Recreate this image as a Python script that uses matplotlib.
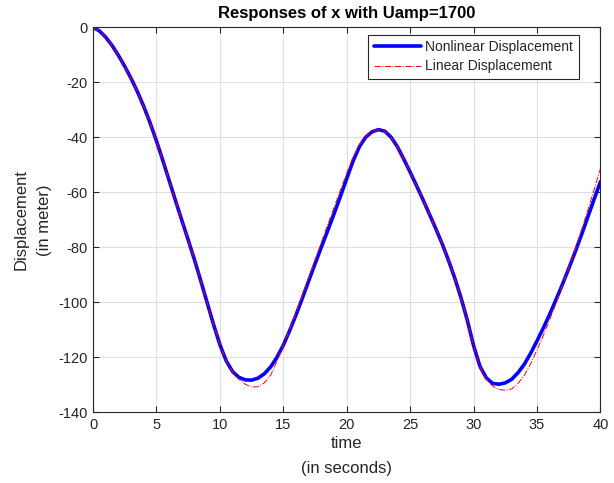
import matplotlib
matplotlib.use("Agg")
import matplotlib.pyplot as plt

plt.rcParams['font.family'] = ['Liberation Sans', 'DejaVu Sans']
plt.rcParams['axes.unicode_minus'] = False

t = [i * 0.5 for i in range(81)]

nonlinear = [0, -1.3, -3.6, -6.6, -10.2, -14.2, -18.6, -23.4, -28.8, -34.8,
             -41.3, -48.4, -55.7, -63.0, -70.2, -77.3, -84.6, -92.3, -100.2, -108.1,
             -115.4, -121.3, -125.2, -127.3, -128.2, -128.3, -127.6, -126.0, -123.5, -120.0,
             -115.6, -110.3, -104.6, -98.5, -92.2, -86.0, -79.9, -73.9, -67.8, -61.5,
             -55.0, -48.6, -43.4, -39.9, -38.0, -37.2, -37.8, -40.0, -43.5, -48.0,
             -52.7, -57.6, -62.6, -67.8, -73.0, -78.5, -84.5, -91.0, -98.3, -106.5,
             -115.8, -123.3, -127.5, -129.5, -129.8, -129.3, -128.0, -125.6, -122.5, -118.5,
             -114.0, -109.3, -104.3, -99.0, -93.5, -87.7, -81.7, -75.5, -69.0, -62.5,
             -56.1]

linear = [0, -1.3, -3.6, -6.6, -10.2, -14.2, -18.6, -23.4, -28.8, -34.8,
          -41.3, -48.4, -55.7, -63.0, -70.2, -77.3, -84.6, -92.3, -100.2, -108.1,
          -115.4, -121.3, -125.5, -128.0, -129.8, -130.8, -130.7, -129.3, -126.5, -121.5,
          -115.6, -109.8, -103.8, -97.5, -91.0, -84.6, -78.2, -71.8, -65.5, -59.2,
          -53.0, -47.2, -42.6, -39.6, -38.0, -37.2, -37.8, -40.0, -43.5, -48.0,
          -52.7, -57.6, -62.6, -67.8, -73.0, -78.5, -84.5, -91.0, -98.3, -106.5,
          -115.8, -123.5, -128.0, -130.5, -131.7, -132.0, -131.5, -129.5, -126.5, -122.3,
          -117.3, -112.0, -106.3, -100.3, -94.0, -87.5, -80.8, -73.8, -66.5, -59.0,
          -51.3]

xticks = [0, 5, 10, 15, 20, 25, 30, 35, 40]
yticks = [0, -20, -40, -60, -80, -100, -120, -140]

fig = plt.figure(figsize=(6.14, 4.83), dpi=100)
ax = fig.add_axes([0.1515, 0.1464, 0.8265, 0.7971])

ax.plot(t, nonlinear, color='#0000ff', lw=2.6, label='Nonlinear Displacement',
        solid_joinstyle='round', solid_capstyle='round')
ax.plot(t, linear, color='#ff0000', lw=0.7, ls='-.', label='Linear Displacement')

ax.set_xlim(0, 40)
ax.set_ylim(-140, 0)
ax.set_xticks(xticks)
ax.set_yticks(yticks)
ax.grid(True, color='#dfdfdf', lw=0.8)
ax.set_axisbelow(True)

dark = '#262626'
for s in ax.spines.values():
    s.set_color(dark)
    s.set_linewidth(0.8)
ax.tick_params(direction='in', top=True, right=True, length=4, width=0.8,
               colors=dark, labelsize=10.5, pad=4)

ax.set_title('Responses of x with Uamp=1700', fontsize=12, fontweight='bold', color='black', pad=7)
ax.set_xlabel('time\n(in seconds)', fontsize=12, color=dark, labelpad=3, linespacing=1.8)
ax.set_ylabel('Displacement\n(in meter)', fontsize=12, color=dark, labelpad=4, linespacing=1.7)

leg = ax.legend(loc='upper right', fontsize=10, frameon=True, fancybox=False,
                edgecolor=dark, framealpha=1, borderpad=0.4, labelspacing=0.38,
                handlelength=3.4, handletextpad=0.3, borderaxespad=0.0,
                bbox_to_anchor=(0.957, 0.981))
leg.get_frame().set_linewidth(0.8)
for txt in leg.get_texts():
    txt.set_color(dark)

fig.savefig('out.png', dpi=100)
